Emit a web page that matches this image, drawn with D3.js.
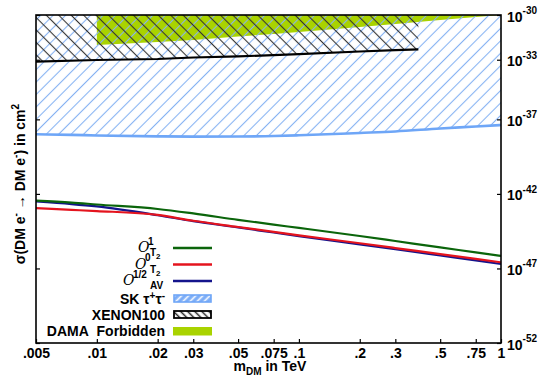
<!DOCTYPE html>
<html><head><meta charset="utf-8">
<script src="https://cdn.jsdelivr.net/npm/d3@7"></script>
<style>
body{margin:0;background:#fff;}
svg{display:block;font-family:"Liberation Sans",Arial,sans-serif;font-weight:bold;}
</style></head>
<body><svg id="c" width="541" height="383"></svg>
<script>
// ---- data ----
const masses = [0.005, 0.0075, 0.01, 0.02, 0.03, 0.05, 0.075, 0.1, 0.2, 0.3, 0.5, 0.75, 1];
const greenO1T2 = [3.51e-43, 2.63e-43, 1.95e-43, 9.77e-44, 4.90e-44, 1.82e-44, 8.71e-45, 5.25e-45, 1.51e-45, 6.92e-46, 2.57e-46, 1.20e-46, 6.92e-47];
const redO0T2   = [1.10e-43, 8.51e-44, 7.08e-44, 3.89e-44, 1.58e-44, 6.03e-45, 2.82e-45, 1.66e-45, 4.90e-46, 2.34e-46, 9.12e-47, 4.37e-47, 2.57e-47];
const blueOhalfAV = [3.09e-43, 2.09e-43, 1.45e-43, 3.72e-44, 1.48e-44, 5.62e-45, 2.57e-45, 1.48e-45, 4.17e-46, 1.95e-46, 7.41e-47, 3.47e-47, 2.00e-47];
const skTauTau  = [1.00e-38, 9.12e-39, 8.32e-39, 7.24e-39, 6.92e-39, 7.08e-39, 7.59e-39, 8.51e-39, 1.23e-38, 1.55e-38, 2.45e-38, 3.31e-38, 4.17e-38];
const xenonMass = [0.005, 0.01, 0.02, 0.03, 0.05, 0.1, 0.2, 0.3, 0.39];
const xenon100  = [7.41e-34, 9.55e-34, 1.12e-33, 1.41e-33, 1.66e-33, 2.40e-33, 3.55e-33, 4.37e-33, 5.01e-33];
const damaMass  = [0.01, 0.02, 0.03, 0.05, 0.075, 0.1, 0.2, 0.3, 0.5, 0.75, 1];
const damaLower = [9.77e-33, 1.55e-32, 2.09e-32, 3.63e-32, 5.37e-32, 7.24e-32, 1.58e-31, 2.51e-31, 4.57e-31, 7.41e-31, 1.00e-30];
const xTicks = [0.005, 0.01, 0.02, 0.03, 0.05, 0.075, 0.1, 0.2, 0.3, 0.5, 0.75, 1];
const xTickLabels = [".005", ".01", ".02", ".03", ".05", ".075", ".1", ".2", ".3", ".5", ".75", "1"];
const yTicks = [1e-30, 1e-33, 1e-37, 1e-42, 1e-47, 1e-52];
const yTickExp = ["-30", "-33", "-37", "-42", "-47", "-52"];

// ---- layout ----
const L = 36, R = 501, T = 15, B = 343;
const svg = d3.select("#c");
const x = d3.scaleLog().domain([0.005, 1]).range([L, R]);
const y = d3.scaleLog().domain([1e-52, 1e-30]).range([B, T]);

const defs = svg.append("defs");
defs.append("clipPath").attr("id", "clip").append("rect")
  .attr("x", L).attr("y", T).attr("width", R - L).attr("height", B - T);

function hatch(id, angle, color, w, sp, bg) {
  const p = defs.append("pattern").attr("id", id).attr("patternUnits", "userSpaceOnUse")
    .attr("width", sp).attr("height", sp).attr("patternTransform", `rotate(${angle})`);
  if (bg) p.append("rect").attr("width", sp).attr("height", sp).attr("fill", bg);
  p.append("line").attr("x1", sp / 2).attr("y1", -1).attr("x2", sp / 2).attr("y2", sp + 1)
    .attr("stroke", color).attr("stroke-width", w);
}
hatch("skH", 45, "#86b2f2", 1.1, 8.8, null);
hatch("xeH", -45, "#333", 1.1, 8.8, null);
hatch("skL", 45, "#ffffff", 1.6, 5, "#7aacf7");
hatch("xeL", -45, "#222", 1.5, 5, "#ffffff");

const g = svg.append("g").attr("clip-path", "url(#clip)");
const yTop = 1e-30;

// DAMA region
const damaArea = d3.area().x((d, i) => x(damaMass[i])).y0(y(yTop)).y1((d) => y(d));
g.append("path").datum(damaLower).attr("d", damaArea).attr("fill", "#a9d300");

// SK region
const skArea = d3.area().x((d, i) => x(masses[i])).y0(y(yTop)).y1(d => y(d)).curve(d3.curveMonotoneX);
g.append("path").datum(skTauTau).attr("d", skArea).attr("fill", "url(#skH)");

// XENON region
const xeArea = d3.area().x((d, i) => x(xenonMass[i])).y0(y(yTop)).y1(d => y(d));
g.append("path").datum(xenon100).attr("d", xeArea).attr("fill", "url(#xeH)");

// boundary lines
const skLine = d3.line().x((d, i) => x(masses[i])).y(d => y(d)).curve(d3.curveMonotoneX);
g.append("path").datum(skTauTau).attr("d", skLine).attr("fill", "none")
  .attr("stroke", "#6ea6f7").attr("stroke-width", 2.6);
const xeLine = d3.line().x((d, i) => x(xenonMass[i])).y(d => y(d));
g.append("path").datum(xenon100).attr("d", xeLine).attr("fill", "none")
  .attr("stroke", "#000").attr("stroke-width", 2.2);

// curves
const cLine = d3.line().x((d, i) => x(masses[i])).y(d => y(d)).curve(d3.curveMonotoneX);
[[blueOhalfAV, "#14148c"], [redO0T2, "#e4141e"], [greenO1T2, "#0b650b"]].forEach(([s, c]) => {
  g.append("path").datum(s).attr("d", cLine).attr("fill", "none").attr("stroke", c).attr("stroke-width", 2.2);
});

// axes
const xAxis = d3.axisBottom(x).tickValues(xTicks).tickSize(-4).tickPadding(5)
  .tickFormat((d, i) => xTickLabels[i]);
const xg = svg.append("g").attr("transform", `translate(0,${B})`).call(xAxis);
xg.select(".domain").remove();
xg.selectAll("text").attr("font-size", 14).attr("font-weight", "bold")
  .attr("font-family", "Liberation Sans, Arial, sans-serif").attr("fill", "#000");
xg.selectAll("line").attr("stroke", "#000").attr("stroke-width", 1.2);

const yAxisR = d3.axisRight(y).tickValues(yTicks).tickSize(-4).tickFormat("");
const yr = svg.append("g").attr("transform", `translate(${R},0)`).call(yAxisR);
yr.select(".domain").remove();
yr.selectAll("line").attr("stroke", "#000").attr("stroke-width", 1.2);
const yAxisL = d3.axisLeft(y).tickValues(yTicks).tickSize(-4).tickFormat("");
const yl = svg.append("g").attr("transform", `translate(${L},0)`).call(yAxisL);
yl.select(".domain").remove();
yl.selectAll("line").attr("stroke", "#000").attr("stroke-width", 1.2);

yTicks.forEach((v, i) => {
  const t = svg.append("text").attr("x", 507).attr("y", y(v) + 6.5).attr("font-size", 14);
  t.append("tspan").text("10");
  t.append("tspan").attr("font-size", 10).attr("dy", -7.5).text(yTickExp[i]);
});

// frame
svg.append("rect").attr("x", L).attr("y", T).attr("width", R - L).attr("height", B - T)
  .attr("fill", "none").attr("stroke", "#000").attr("stroke-width", 1.6);

// axis titles
const yt = svg.append("text").attr("transform", "translate(25,184) rotate(-90)")
  .attr("text-anchor", "middle").attr("font-size", 14);
yt.append("tspan").text("σ(DM e");
yt.append("tspan").attr("font-size", 10).attr("dy", -6).text("-");
yt.append("tspan").attr("dy", 6).text(" → DM e");
yt.append("tspan").attr("font-size", 10).attr("dy", -6).text("-");
yt.append("tspan").attr("dy", 6).text(") in cm");
yt.append("tspan").attr("font-size", 10).attr("dy", -6).text("2");

const xt = svg.append("text").attr("x", 270).attr("y", 371).attr("text-anchor", "middle").attr("font-size", 14);
xt.append("tspan").text("m");
xt.append("tspan").attr("font-size", 10).attr("dy", 4).text("DM");
xt.append("tspan").attr("dy", -4).text(" in TeV");

// legend
const sx0 = 173, sx1 = 212;
const lineRows = [
  {c: "#0b650b", y: 248, oEnd: 148, sup: "1", sub: "T", sub2: "2"},
  {c: "#e4141e", y: 264.5, oEnd: 145, sup: "0", sub: "T", sub2: "2"},
  {c: "#14148c", y: 281, oEnd: 133, sup: "1/2", sub: "AV", sub2: ""}
];
const oLabels = svg.append("text").attr("font-size", 10);
lineRows.forEach(r => {
  svg.append("line").attr("x1", sx0).attr("x2", sx1).attr("y1", r.y).attr("y2", r.y)
    .attr("stroke", r.c).attr("stroke-width", 2.4);
  oLabels.append("tspan").attr("x", r.oEnd - 10).attr("y", r.y + 4)
    .attr("font-size", 14).attr("font-weight", "normal").attr("font-style", "italic")
    .attr("font-family", "DejaVu Serif, serif").text("O");
  oLabels.append("tspan").attr("x", r.oEnd).attr("y", r.y - 3.5).text(r.sup);
  oLabels.append("tspan").attr("x", 150).attr("y", r.y + 8).text(r.sub);
  if (r.sub2) oLabels.append("tspan").attr("font-size", 8).attr("dy", 3).text(r.sub2);
});

// SK legend
svg.append("rect").attr("x", 174).attr("y", 295).attr("width", 37).attr("height", 7)
  .attr("fill", "url(#skL)").attr("stroke", "#6ea6f7").attr("stroke-width", 1.6);
const skT = svg.append("text").attr("x", 165).attr("y", 303.5).attr("text-anchor", "end").attr("font-size", 14);
skT.append("tspan").text("SK τ");
skT.append("tspan").attr("font-size", 10).attr("dy", -5).text("+");
skT.append("tspan").attr("dy", 5).text("τ");
skT.append("tspan").attr("font-size", 10).attr("dy", -5).text("-");

svg.append("rect").attr("x", 174).attr("y", 311).attr("width", 37).attr("height", 7)
  .attr("fill", "url(#xeL)").attr("stroke", "#000").attr("stroke-width", 1.8);
svg.append("text").attr("x", 165).attr("y", 320).attr("text-anchor", "end").attr("font-size", 14).text("XENON100");

svg.append("rect").attr("x", 173).attr("y", 327).attr("width", 39).attr("height", 8.5).attr("fill", "#a9d300");
svg.append("text").attr("x", 165).attr("y", 336).attr("text-anchor", "end").attr("font-size", 14)
  .text("DAMA\u00a0 Forbidden");
</script></body></html>
